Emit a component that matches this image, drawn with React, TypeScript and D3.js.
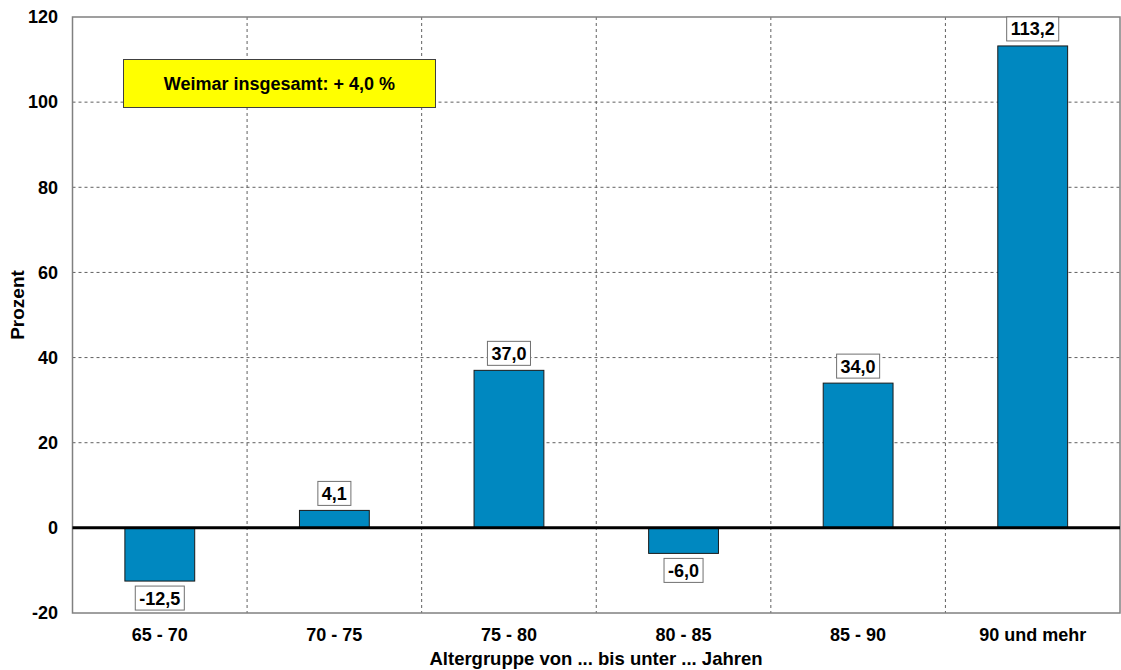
import React, { useEffect, useRef } from "react";
import * as d3 from "d3";

const categories = ["65 - 70", "70 - 75", "75 - 80", "80 - 85", "85 - 90", "90 und mehr"];
const values = [-12.5, 4.1, 37.0, -6.0, 34.0, 113.2];
const yTicks = [-20, 0, 20, 40, 60, 80, 100, 120];
const noteText = "Weimar insgesamt: + 4,0 %";
const yTitle = "Prozent";
const xTitle = "Altergruppe von ... bis unter ... Jahren";

const W = 1121;
const H = 670;
const FONT = "'Liberation Sans', Arial, sans-serif";

const fmt = (v: number) => v.toFixed(1).replace(".", ",");

const drawChart = (svgEl: SVGSVGElement) => {
  const svg = d3.select(svgEl);
  svg.selectAll("*").remove();

  const left = 72.5;
  const right = 1120;
  const top = 17;
  const bottom = 613;

  const x = d3.scaleBand().domain(categories).range([left, right]).padding(0);
  const y = d3.scaleLinear().domain([-20, 120]).range([bottom, top]);
  const barW = x.bandwidth() * 0.4;

  // horizontal grid
  svg
    .append("g")
    .selectAll("line")
    .data(yTicks.filter((t) => t !== 0 && t !== -20 && t !== 120))
    .enter()
    .append("line")
    .attr("x1", left)
    .attr("x2", right)
    .attr("y1", (t) => y(t))
    .attr("y2", (t) => y(t))
    .attr("stroke", "#606060")
    .attr("stroke-width", 1)
    .attr("stroke-dasharray", "3,3");

  // vertical grid
  svg
    .append("g")
    .selectAll("line")
    .data(categories.slice(1))
    .enter()
    .append("line")
    .attr("x1", (c) => x(c) || 0)
    .attr("x2", (c) => x(c) || 0)
    .attr("y1", top)
    .attr("y2", bottom)
    .attr("stroke", "#606060")
    .attr("stroke-width", 1)
    .attr("stroke-dasharray", "3,3");

  // plot border
  svg
    .append("rect")
    .attr("x", left)
    .attr("y", top)
    .attr("width", right - left)
    .attr("height", bottom - top)
    .attr("fill", "none")
    .attr("stroke", "#808080")
    .attr("stroke-width", 1.5);

  // bars
  svg
    .append("g")
    .selectAll("rect")
    .data(values)
    .enter()
    .append("rect")
    .attr("x", (_, i) => (x(categories[i]) || 0) + (x.bandwidth() - barW) / 2)
    .attr("width", barW)
    .attr("y", (v) => Math.min(y(v), y(0)))
    .attr("height", (v) => Math.abs(y(v) - y(0)))
    .attr("fill", "#0088c0")
    .attr("stroke", "#1a1a1a")
    .attr("stroke-width", 1);

  // zero line
  svg
    .append("line")
    .attr("x1", left)
    .attr("x2", right)
    .attr("y1", y(0))
    .attr("y2", y(0))
    .attr("stroke", "#000")
    .attr("stroke-width", 3);

  // y tick labels
  svg
    .append("g")
    .selectAll("text")
    .data(yTicks)
    .enter()
    .append("text")
    .attr("x", 58)
    .attr("y", (t) => y(t))
    .attr("dy", "0.35em")
    .attr("text-anchor", "end")
    .attr("font-family", FONT)
    .attr("font-weight", "bold")
    .attr("font-size", 18)
    .text((t) => String(t));

  // x labels
  svg
    .append("g")
    .selectAll("text")
    .data(categories)
    .enter()
    .append("text")
    .attr("x", (c) => (x(c) || 0) + x.bandwidth() / 2)
    .attr("y", 641)
    .attr("text-anchor", "middle")
    .attr("font-family", FONT)
    .attr("font-weight", "bold")
    .attr("font-size", 18)
    .text((c) => c);

  // axis titles
  svg
    .append("text")
    .attr("x", 596)
    .attr("y", 665)
    .attr("text-anchor", "middle")
    .attr("font-family", FONT)
    .attr("font-weight", "bold")
    .attr("font-size", 18.5)
    .text(xTitle);

  svg
    .append("text")
    .attr("transform", `translate(24,305) rotate(-90)`)
    .attr("text-anchor", "middle")
    .attr("font-family", FONT)
    .attr("font-weight", "bold")
    .attr("font-size", 19)
    .text(yTitle);

  // value labels
  const labels = svg
    .append("g")
    .selectAll("g")
    .data(values)
    .enter()
    .append("g");

  labels.each(function (v, i) {
    const g = d3.select(this);
    const cx = (x(categories[i]) || 0) + x.bandwidth() / 2;
    const boxH = 24;
    const boxTop = v >= 0 ? y(v) - 5 - boxH : y(v) + 5;
    const rect = g.append("rect");
    const t = g
      .append("text")
      .attr("x", cx)
      .attr("y", boxTop + boxH / 2)
      .attr("dy", "0.36em")
      .attr("text-anchor", "middle")
      .attr("font-family", FONT)
      .attr("font-weight", "bold")
      .attr("font-size", 18)
      .text(fmt(v));
    const w = (t.node() as SVGTextElement).getComputedTextLength() + 8;
    rect
      .attr("x", cx - w / 2)
      .attr("y", boxTop)
      .attr("width", w)
      .attr("height", boxH)
      .attr("fill", "#fff")
      .attr("stroke", "#707070")
      .attr("stroke-width", 1);
  });

  // note box
  const note = svg.append("g");
  note
    .append("rect")
    .attr("x", 123.5)
    .attr("y", 59.5)
    .attr("width", 312)
    .attr("height", 48)
    .attr("fill", "#ffff00")
    .attr("stroke", "#404040")
    .attr("stroke-width", 1);
  note
    .append("text")
    .attr("x", 279.5)
    .attr("y", 83.5)
    .attr("dy", "0.36em")
    .attr("text-anchor", "middle")
    .attr("font-family", FONT)
    .attr("font-weight", "bold")
    .attr("font-size", 18)
    .text(noteText);
};

const App = () => {
  const ref = useRef<SVGSVGElement>(null);
  useEffect(() => {
    if (ref.current) drawChart(ref.current);
  }, []);
  return (
    <svg
      ref={ref}
      width={W}
      height={H}
      style={{ position: "absolute", left: 0, top: 0, background: "#fff" }}
    />
  );
};

export default App;
